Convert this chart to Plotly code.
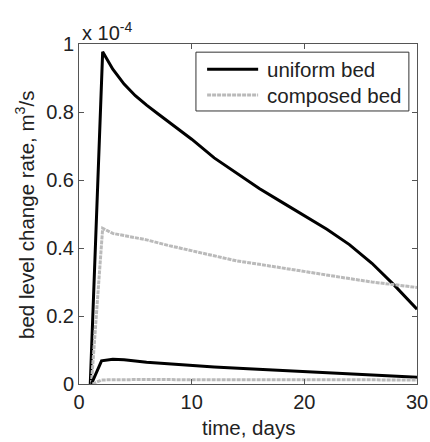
import plotly.graph_objects as go

# Data (values in units of 1e-4 m^3/s)
t_uniform_main = [1, 2.1, 3, 4, 5, 6, 7, 8, 10, 12, 14, 16, 18, 20, 22, 24, 26, 28, 30]
uniform_main = [0, 0.977, 0.926, 0.882, 0.848, 0.82, 0.795, 0.77, 0.72, 0.665, 0.62, 0.575,
                0.535, 0.495, 0.455, 0.41, 0.355, 0.29, 0.22]

t_composed_main = [1.1, 2.1, 3, 4, 6, 8, 10, 12, 14, 16, 18, 20, 22, 24, 26, 28, 30]
composed_main = [0, 0.458, 0.443, 0.436, 0.424, 0.407, 0.392, 0.375, 0.362, 0.352, 0.341,
                 0.33, 0.32, 0.31, 0.30, 0.292, 0.284]

t_uniform_low = [1.1, 2, 3, 4, 6, 8, 10, 12, 15, 20, 25, 30]
uniform_low = [0, 0.068, 0.073, 0.071, 0.064, 0.059, 0.055, 0.05, 0.045, 0.037, 0.028, 0.02]

t_composed_low = [1.2, 2, 5, 10, 15, 20, 25, 30]
composed_low = [0, 0.012, 0.013, 0.013, 0.013, 0.012, 0.012, 0.012]

series_names = ["uniform bed", "composed bed"]
x_ticks = [0, 10, 20, 30]
y_ticks = [0, 0.2, 0.4, 0.6, 0.8, 1]
y_tick_labels = ["0", "0.2", "0.4", "0.6", "0.8", "1"]

black = dict(color="black", width=3)
gray = dict(color="#bababa", width=3, dash="4px,1px")

fig = go.Figure()
for tx, ty, ln in [(t_uniform_main, uniform_main, black),
                   (t_composed_main, composed_main, gray),
                   (t_uniform_low, uniform_low, black),
                   (t_composed_low, composed_low, gray)]:
    fig.add_trace(go.Scatter(x=tx, y=ty, mode="lines", line=ln, showlegend=False,
                             hoverinfo="skip"))

font = "Liberation Sans, Arial, sans-serif"
axis_common = dict(ticks="inside", ticklen=5, showgrid=False, zeroline=False,
                   showline=True, linecolor="#555", linewidth=1, mirror="ticks",
                   tickcolor="#555", automargin=False, ticklabeloverflow="allow",
                   tickfont=dict(size=20))

# Manual legend (box, line samples, labels) in paper coordinates
legend_box = dict(x0=0.346, x1=0.976, y0=0.803, y1=0.976)
legend_rows_y = [0.926, 0.85]
legend_lines = [black, gray]

shapes = [dict(type="rect", xref="paper", yref="paper", line=dict(color="#333", width=1),
               fillcolor="white", layer="above", **legend_box)]
annotations = []
for name, yy, ln in zip(series_names, legend_rows_y, legend_lines):
    shapes.append(dict(type="line", xref="paper", yref="paper", x0=0.379, x1=0.530,
                       y0=yy, y1=yy, line=ln, layer="above"))
    annotations.append(dict(text=name, x=0.550, y=yy, xref="paper", yref="paper",
                            xanchor="left", yanchor="middle", showarrow=False,
                            font=dict(size=20.5)))

annotations += [
    dict(text="x 10<sup>-4</sup>", x=0.003, y=1.038, xref="paper", yref="paper",
         xanchor="left", yanchor="middle", showarrow=False, font=dict(size=20)),
    dict(text="time, days", x=0.5, y=-0.129, xref="paper", yref="paper",
         xanchor="center", yanchor="middle", showarrow=False, font=dict(size=20.5)),
    dict(text="bed level change rate, m<sup>3</sup>/s", x=-0.16, y=0.497,
         xref="paper", yref="paper", xanchor="center", yanchor="middle",
         textangle=-90, showarrow=False, font=dict(size=20.5)),
]

fig.update_layout(
    width=430, height=442,
    margin=dict(l=79, r=13, t=44, b=58),
    plot_bgcolor="white", paper_bgcolor="white",
    font=dict(family=font, size=20, color="#222"),
    xaxis=dict(range=[0, 30], tickvals=x_ticks, **axis_common),
    yaxis=dict(range=[0, 1], tickvals=y_ticks, ticktext=y_tick_labels, **axis_common),
    shapes=shapes,
    annotations=annotations,
)

fig.write_html("out.html", config={"displayModeBar": False},
               post_script="document.body.style.margin='0';document.body.style.overflow='hidden';")
